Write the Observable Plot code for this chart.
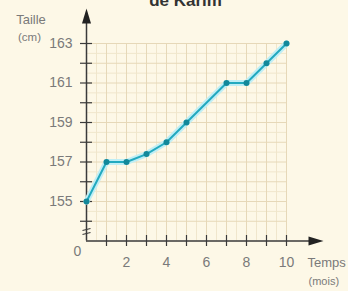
<!DOCTYPE html>
<html>
<head>
<meta charset="utf-8">
<script src="https://cdn.jsdelivr.net/npm/d3@7"></script>
<script src="https://cdn.jsdelivr.net/npm/@observablehq/plot@0.6"></script>
<style>
  html, body { margin: 0; padding: 0; background: #fdf8e7; }
  svg { display: block; }
</style>
</head>
<body>
<div id="chart"></div>
<script>
// Data
const months = [0, 1, 2, 3, 4, 5, 7, 8, 9, 10];
const heights = [155, 157, 157, 157.4, 158, 159, 161, 161, 162, 163];
const yTickLabels = [155, 157, 159, 161, 163];
const yTicks = [154, 155, 156, 157, 158, 159, 160, 161, 162, 163];
const yMinor = [154.5, 155.5, 156.5, 157.5, 158.5, 159.5, 160.5, 161.5, 162.5];
const xTicks = [1, 2, 3, 4, 5, 6, 7, 8, 9, 10];
const xMinor = [0.5, 1.5, 2.5, 3.5, 4.5, 5.5, 6.5, 7.5, 8.5, 9.5];
const xTickLabels = [2, 4, 6, 8, 10];
const title = "de Karim";
const yLabel = ["Taille", "(cm)"];
const xLabel = ["Temps", "(mois)"];

const data = months.map((m, i) => ({month: m, height: heights[i]}));

const font = "'Liberation Sans', Arial, sans-serif";
const textColor = "#7a7a7a";
const axisColor = "#3a3a3a";

const arrowHead = {
  draw(ctx) {
    ctx.moveTo(0, -9);
    ctx.lineTo(4.5, 6);
    ctx.lineTo(-4.5, 6);
    ctx.closePath();
  }
};

const chart = Plot.plot({
  width: 348,
  height: 291,
  marginLeft: 86,
  marginRight: 62,
  marginTop: 43,
  marginBottom: 50.5,
  x: {domain: [0, 10], axis: null},
  y: {domain: [153, 163], axis: null},
  style: {background: "#fdf8e7", fontFamily: font},
  marks: [
    // minor grid
    Plot.ruleX(xMinor, {x: d => d, y1: 153, y2: 163, stroke: "#f0e6cc", strokeWidth: 1}),
    Plot.ruleY(yMinor, {y: d => d, x1: 0, x2: 10, stroke: "#f0e6cc", strokeWidth: 1}),
    // major grid
    Plot.ruleX(xTicks, {x: d => d, y1: 153, y2: 163, stroke: "#e6d8b8", strokeWidth: 1}),
    Plot.ruleY(yTicks, {y: d => d, x1: 0, x2: 10, stroke: "#e6d8b8", strokeWidth: 1}),
    // axes lines
    Plot.ruleX([0], {x: d => d, y1: 153, y2: 164.3, stroke: axisColor, strokeWidth: 1.5}),
    Plot.ruleY([153], {y: d => d, x1: 0, x2: 11.4, stroke: axisColor, strokeWidth: 1.5}),
    // arrow heads
    Plot.dot([0], {x: d => d, y: () => 164.32, symbol: arrowHead, fill: "#222", stroke: "none"}),
    Plot.dot([11.4], {x: d => d, y: () => 153, symbol: arrowHead, rotate: 90, fill: "#222", stroke: "none"}),
    // axis ticks
    Plot.ruleY(yTicks, {y: d => d, x1: -0.3, x2: 0.3, stroke: axisColor, strokeWidth: 1.2}),
    Plot.ruleX(xTicks, {x: d => d, y1: 152.72, y2: 153.28, stroke: axisColor, strokeWidth: 1.2}),
    // axis break
    Plot.link([0, 1], {
      x1: () => -0.2, x2: () => 0.2,
      y1: (d, i) => i === 0 ? 153.33 : 153.53,
      y2: (d, i) => i === 0 ? 153.43 : 153.63,
      stroke: axisColor, strokeWidth: 1.1
    }),
    // tick labels
    Plot.text(yTickLabels, {x: () => 0, y: d => d, text: d => String(d), dx: -14, textAnchor: "end", lineAnchor: "middle", fontSize: 14, fill: textColor}),
    Plot.text(xTickLabels, {x: d => d, y: () => 153, text: d => String(d), dy: 22, lineAnchor: "middle", fontSize: 14, fill: textColor}),
    Plot.text(["0"], {frameAnchor: "bottom-left", text: d => d, dx: -9, dy: 11, textAnchor: "middle", lineAnchor: "middle", fontSize: 14, fill: textColor}),
    // axis titles
    Plot.text([yLabel[0]], {frameAnchor: "top-left", text: d => d, dx: -55.5, dy: -24, textAnchor: "middle", lineAnchor: "middle", fontSize: 13, fill: textColor}),
    Plot.text([yLabel[1]], {frameAnchor: "top-left", text: d => d, dx: -57, dy: -6, textAnchor: "middle", lineAnchor: "middle", fontSize: 11.5, fill: textColor}),
    Plot.text([xLabel[0]], {frameAnchor: "bottom-right", text: d => d, dx: 21, dy: 21.5, textAnchor: "start", lineAnchor: "middle", fontSize: 13, fill: textColor}),
    Plot.text([xLabel[1]], {frameAnchor: "bottom-right", text: d => d, dx: 22, dy: 40.5, textAnchor: "start", lineAnchor: "middle", fontSize: 11, fill: textColor}),
    // title (cut at top, as in the reference)
    Plot.text([title], {frameAnchor: "top", text: d => d, dx: -1, dy: -43.4, textAnchor: "middle", lineAnchor: "middle", fontSize: 17, fontWeight: "bold", fill: "#333"}),
    // data line with halo
    Plot.line(data, {x: "month", y: "height", stroke: "#bfeef5", strokeWidth: 6, strokeLinejoin: "round"}),
    Plot.line(data, {x: "month", y: "height", stroke: "#22a9bf", strokeWidth: 2, strokeLinejoin: "round"}),
    Plot.dot(data, {x: "month", y: "height", r: 3, fill: "#12889a", stroke: "none"})
  ]
});

document.getElementById("chart").appendChild(chart);
</script>
</body>
</html>
